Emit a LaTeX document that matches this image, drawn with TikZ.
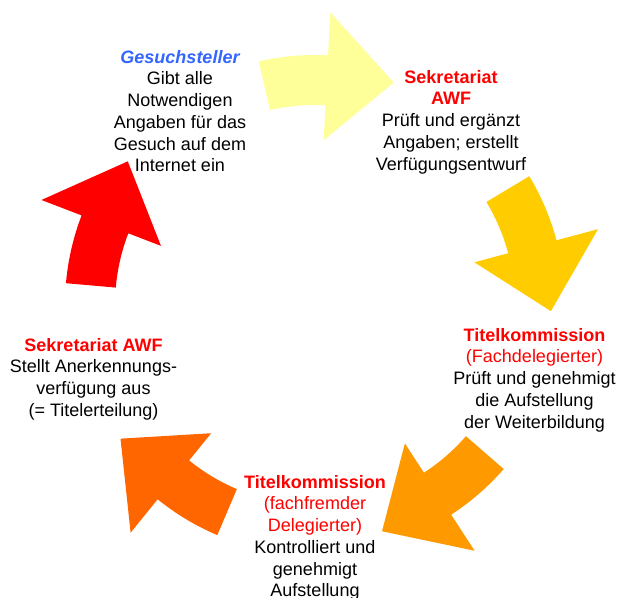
\documentclass[tikz,border=0pt]{standalone}
\usepackage{fontspec}
\setmainfont{Liberation Sans}
\usepackage{tikz}
\usetikzlibrary{positioning,calc}
\definecolor{arrpale}{HTML}{FFFF99}
\definecolor{arrgold}{HTML}{FFCC00}
\definecolor{arrorange}{HTML}{FF9900}
\definecolor{arrdark}{HTML}{FF6600}
\definecolor{arrred}{HTML}{FF0000}
\definecolor{ttlred}{HTML}{FF0000}
\definecolor{ttlblue}{HTML}{3366FF}
\tikzset{
  stage/.style={align=center, inner sep=0pt, anchor=north, text=black,
                font=\fontsize{18}{21.7}\selectfont},
}
\newcommand{\ttl}[1]{\textcolor{ttlred}{\bfseries #1}}
\newcommand{\sub}[1]{\textcolor{ttlred}{#1}}

\begin{document}
\begin{tikzpicture}[x=1pt, y=1pt]
\useasboundingbox (0,0) rectangle (618,597);
\coordinate (ctr) at (315,292);
\begin{scope}[shift={(ctr)}]
\foreach \a/\c in {103/arrpale,31/arrgold,-41/arrorange,-113/arrdark,175/arrred}
  \fill[\c] (\a:250) arc[start angle=\a, end angle=\a-16, radius=250]
    -- (\a-16:293) -- (\a-32.5:236) -- (\a-16:165) -- (\a-16:200)
    arc[start angle=\a-16, end angle=\a, radius=200] -- cycle;
\end{scope}
\node[stage] (gesuch) at (180,547)
  {\textcolor{ttlblue}{\bfseries\itshape Gesuchsteller}\\ Gibt alle\\ Notwendigen\\
   Angaben für das\\ Gesuch auf dem\\ Internet ein};
\node[stage] (sekr) at (451,527)
  {\ttl{Sekretariat}\\ \ttl{AWF}\\ Prüft und ergänzt\\ Angaben; erstellt\\ Verfügungsentwurf};
\node[stage] (fach) at (534.5,269)
  {\ttl{Titelkommission}\\ \sub{(Fachdelegierter)}\\ Prüft und genehmigt\\
   die Aufstellung\\ der Weiterbildung};
\node[stage] (fremd) at (315,122)
  {\ttl{Titelkommission}\\ \sub{(fachfremder}\\ \sub{Delegierter)}\\ Kontrolliert und\\
   genehmigt\\ Aufstellung};
\node[stage] (verf) at (93.5,259)
  {\ttl{Sekretariat AWF}\\ Stellt Anerkennungs-\\ verfügung aus\\ (= Titelerteilung)};
\end{tikzpicture}
\end{document}
